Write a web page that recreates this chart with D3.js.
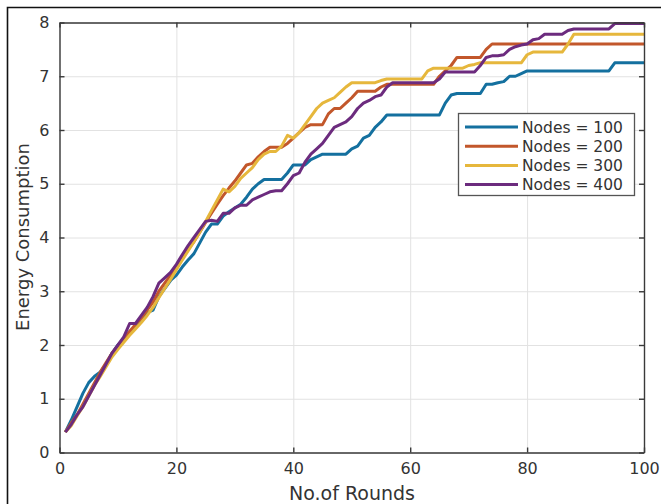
<!DOCTYPE html>
<html>
<head>
<meta charset="utf-8">
<script src="https://d3js.org/d3.v7.min.js"></script>
<style>
  body { margin: 0; background: #fff; }
  text { font-family: "DejaVu Sans", sans-serif; fill: #333; }
</style>
</head>
<body>
<svg id="chart" width="661" height="504"></svg>
<script>
// rounds 1..100, one reading per round
const rounds = d3.range(1, 101);

const nodes100 = [
  0.38,0.6,0.85,1.1,1.3,1.42,1.5,1.65,1.85,2.0,
  2.12,2.25,2.35,2.48,2.6,2.65,2.9,3.05,3.2,3.3,
  3.45,3.58,3.7,3.9,4.1,4.25,4.25,4.4,4.48,4.55,
  4.62,4.75,4.9,5.0,5.08,5.08,5.08,5.08,5.2,5.35,
  5.35,5.35,5.45,5.5,5.55,5.55,5.55,5.55,5.55,5.65,
  5.7,5.85,5.9,6.05,6.15,6.28,6.28,6.28,6.28,6.28,
  6.28,6.28,6.28,6.28,6.28,6.5,6.65,6.68,6.68,6.68,
  6.68,6.68,6.85,6.85,6.88,6.9,7.0,7.0,7.05,7.1,
  7.1,7.1,7.1,7.1,7.1,7.1,7.1,7.1,7.1,7.1,
  7.1,7.1,7.1,7.1,7.25,7.25,7.25,7.25,7.25,7.25
];
const nodes200 = [
  0.38,0.55,0.7,0.9,1.1,1.3,1.5,1.68,1.85,1.98,
  2.12,2.25,2.38,2.5,2.65,2.8,3.0,3.15,3.3,3.45,
  3.62,3.78,3.92,4.1,4.28,4.45,4.62,4.78,4.92,5.05,
  5.2,5.35,5.38,5.5,5.6,5.68,5.68,5.68,5.75,5.85,
  5.95,6.05,6.1,6.1,6.1,6.3,6.4,6.4,6.5,6.6,
  6.72,6.72,6.72,6.72,6.8,6.85,6.85,6.85,6.85,6.85,
  6.85,6.85,6.85,6.85,7.0,7.1,7.2,7.35,7.35,7.35,
  7.35,7.35,7.5,7.6,7.6,7.6,7.6,7.6,7.6,7.6,
  7.6,7.6,7.6,7.6,7.6,7.6,7.6,7.6,7.6,7.6,
  7.6,7.6,7.6,7.6,7.6,7.6,7.6,7.6,7.6,7.6
];
const nodes300 = [
  0.38,0.5,0.68,0.85,1.05,1.25,1.42,1.6,1.78,1.92,
  2.05,2.18,2.3,2.42,2.55,2.7,2.88,3.05,3.22,3.4,
  3.58,3.75,3.92,4.1,4.3,4.5,4.7,4.9,4.85,4.95,
  5.1,5.2,5.3,5.45,5.55,5.6,5.6,5.7,5.9,5.85,
  5.95,6.1,6.25,6.4,6.5,6.55,6.6,6.7,6.8,6.88,
  6.88,6.88,6.88,6.88,6.92,6.95,6.95,6.95,6.95,6.95,
  6.95,6.95,7.1,7.15,7.15,7.15,7.15,7.15,7.15,7.2,
  7.22,7.25,7.25,7.25,7.25,7.25,7.25,7.25,7.25,7.4,
  7.45,7.45,7.45,7.45,7.45,7.45,7.6,7.78,7.78,7.78,
  7.78,7.78,7.78,7.78,7.78,7.78,7.78,7.78,7.78,7.78
];
const nodes400 = [
  0.38,0.52,0.7,0.85,1.05,1.25,1.45,1.65,1.85,2.0,
  2.15,2.4,2.4,2.55,2.7,2.9,3.15,3.25,3.35,3.5,
  3.68,3.85,4.0,4.15,4.3,4.32,4.3,4.45,4.45,4.55,
  4.6,4.6,4.7,4.75,4.8,4.85,4.87,4.87,5.0,5.15,
  5.2,5.4,5.55,5.65,5.75,5.9,6.05,6.1,6.15,6.25,
  6.4,6.5,6.55,6.62,6.65,6.8,6.88,6.88,6.88,6.88,
  6.88,6.88,6.88,6.88,6.95,7.08,7.08,7.08,7.08,7.08,
  7.08,7.2,7.35,7.38,7.38,7.4,7.5,7.55,7.58,7.6,
  7.68,7.7,7.78,7.78,7.78,7.78,7.85,7.88,7.88,7.88,
  7.88,7.88,7.88,7.88,7.98,7.98,7.98,7.98,7.98,7.98
];

const seriesNames = ["Nodes = 100", "Nodes = 200", "Nodes = 300", "Nodes = 400"];
const seriesValues = [nodes100, nodes200, nodes300, nodes400];
const colors = ["#14709f", "#c2572b", "#e6b73c", "#6c2b7e"];
const xTicks = [0, 20, 40, 60, 80, 100];
const yTicks = [0, 1, 2, 3, 4, 5, 6, 7, 8];

const svg = d3.select("#chart");
const pLeft = 59.5, pRight = 644, pTop = 22.5, pBottom = 452.5;

// outer frame of the figure (top and left edges visible)
svg.append("path")
   .attr("d", "M7.5,504 L7.5,7.5 L661,7.5")
   .attr("fill", "none")
   .attr("stroke", "#111")
   .attr("stroke-width", 1.6);

const x = d3.scaleLinear().domain([0, 100]).range([pLeft, pRight]);
const y = d3.scaleLinear().domain([0, 8]).range([pBottom, pTop]);

// grid
svg.append("g").attr("transform", `translate(0,${pBottom})`)
   .call(d3.axisBottom(x).tickValues(xTicks).tickSize(-(pBottom - pTop)).tickFormat(""))
   .call(g => g.select(".domain").remove())
   .call(g => g.selectAll("line").attr("stroke", "#e2e2e2"));
svg.append("g").attr("transform", `translate(${pLeft},0)`)
   .call(d3.axisLeft(y).tickValues(yTicks).tickSize(-(pRight - pLeft)).tickFormat(""))
   .call(g => g.select(".domain").remove())
   .call(g => g.selectAll("line").attr("stroke", "#e2e2e2"));

// lines
const line = d3.line().x((d, i) => x(rounds[i])).y(d => y(d));
seriesValues.forEach((vals, k) => {
  svg.append("path")
     .datum(vals)
     .attr("fill", "none")
     .attr("stroke", colors[k])
     .attr("stroke-width", 3)
     .attr("stroke-linejoin", "round")
     .attr("d", line);
});

// axes, ticks pointing inward on all four sides
const axisStyle = g => {
  g.select(".domain").attr("stroke", "#3a3a3a").attr("stroke-width", 1.4);
  g.selectAll(".tick line").attr("stroke", "#3a3a3a").attr("stroke-width", 1.4);
  g.selectAll("text").attr("fill", "#333").style("font-size", "16px")
   .style("font-family", "DejaVu Sans, sans-serif");
};
svg.append("g").attr("transform", `translate(0,${pBottom})`)
   .call(d3.axisBottom(x).tickValues(xTicks).tickSizeInner(-5).tickSizeOuter(0).tickPadding(10))
   .call(axisStyle);
svg.append("g").attr("transform", `translate(0,${pTop})`)
   .call(d3.axisTop(x).tickValues(xTicks).tickSizeInner(-5).tickSizeOuter(0).tickFormat(""))
   .call(axisStyle);
svg.append("g").attr("transform", `translate(${pLeft},0)`)
   .call(d3.axisLeft(y).tickValues(yTicks).tickSizeInner(-5).tickSizeOuter(0).tickPadding(10))
   .call(axisStyle);
svg.append("g").attr("transform", `translate(${pRight},0)`)
   .call(d3.axisRight(y).tickValues(yTicks).tickSizeInner(-5).tickSizeOuter(0).tickFormat(""))
   .call(axisStyle);

// axis titles
svg.append("text")
   .attr("x", 352).attr("y", 500)
   .attr("text-anchor", "middle")
   .style("font-size", "19px")
   .text("No.of Rounds");
svg.append("text")
   .attr("transform", "translate(29,237) rotate(-90)")
   .attr("text-anchor", "middle")
   .style("font-size", "18px")
   .text("Energy Consumption");

// legend
const lg = svg.append("g");
lg.append("rect")
  .attr("x", 458.5).attr("y", 113.5)
  .attr("width", 176).attr("height", 82)
  .attr("fill", "#fff")
  .attr("stroke", "#555")
  .attr("stroke-width", 1.3);
seriesNames.forEach((name, k) => {
  const cy = 127 + k * 19.2;
  lg.append("line")
    .attr("x1", 465).attr("x2", 518)
    .attr("y1", cy).attr("y2", cy)
    .attr("stroke", colors[k]).attr("stroke-width", 3);
  lg.append("text")
    .attr("x", 522).attr("y", cy)
    .attr("dy", "0.36em")
    .style("font-size", "15.5px")
    .text(name);
});
</script>
</body>
</html>
